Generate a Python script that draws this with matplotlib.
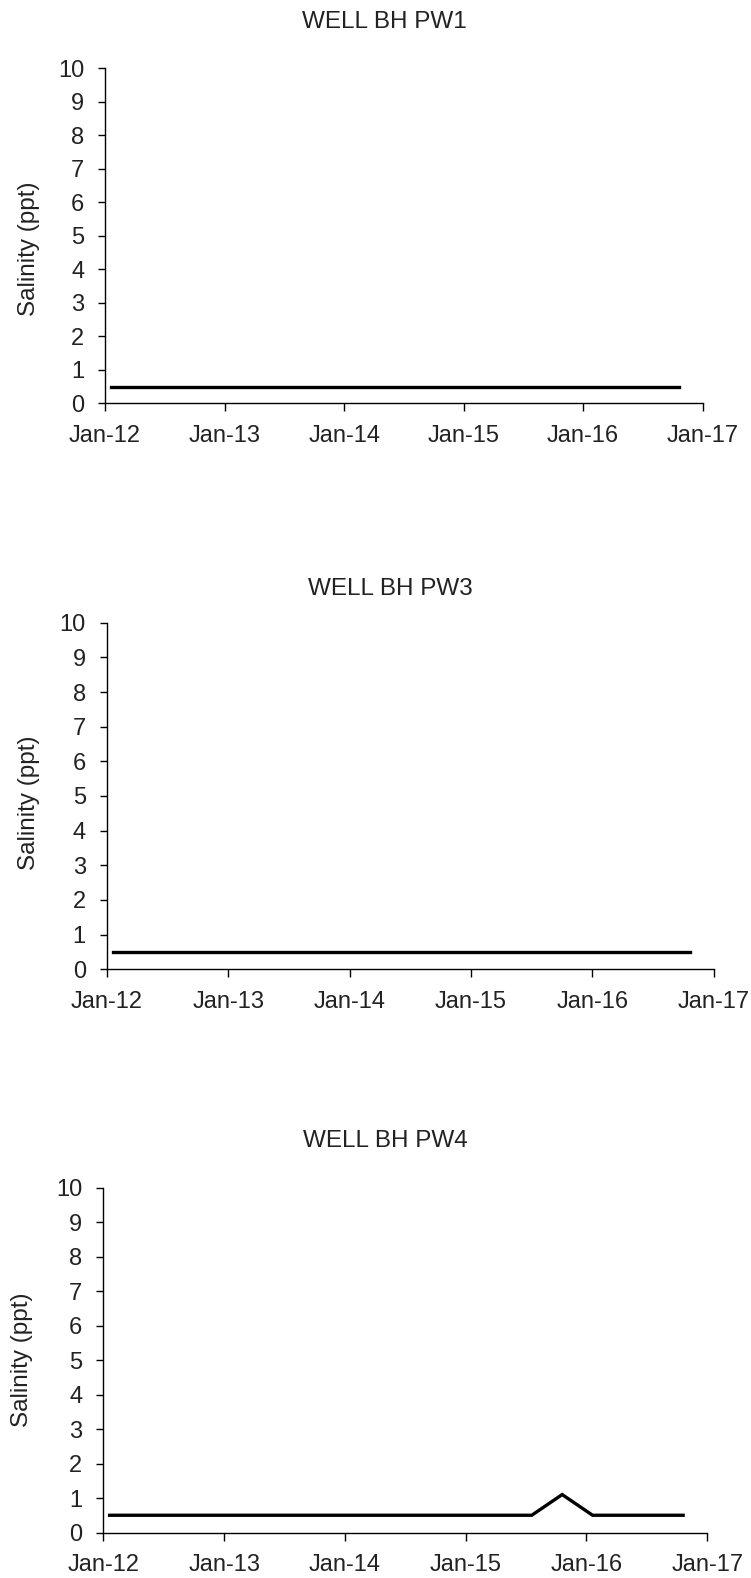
import matplotlib
matplotlib.use("Agg")
import matplotlib.pyplot as plt
import matplotlib.dates as mdates
import pandas as pd

plt.rcParams['font.family'] = ['Liberation Sans', 'DejaVu Sans']

# ---- data ----
titles = ["WELL BH PW1", "WELL BH PW3", "WELL BH PW4"]
dates = pd.to_datetime([
    "2012-01-20", "2012-04-20", "2012-07-20", "2012-10-20",
    "2013-01-20", "2013-04-20", "2013-07-20", "2013-10-20",
    "2014-01-20", "2014-04-20", "2014-07-20", "2014-10-20",
    "2015-01-20", "2015-04-20", "2015-07-20", "2015-10-20",
    "2016-01-20", "2016-04-20", "2016-07-20", "2016-10-20",
])
pw1 = [0.5, 0.5, 0.5, 0.5, 0.5, 0.5, 0.5, 0.5, 0.5, 0.5,
       0.5, 0.5, 0.5, 0.5, 0.5, 0.5, 0.5, 0.5, 0.5, 0.5]
pw3 = [0.5, 0.5, 0.5, 0.5, 0.5, 0.5, 0.5, 0.5, 0.5, 0.5,
       0.5, 0.5, 0.5, 0.5, 0.5, 0.5, 0.5, 0.5, 0.5, 0.5]
pw4 = [0.5, 0.5, 0.5, 0.5, 0.5, 0.5, 0.5, 0.5, 0.5, 0.5,
       0.5, 0.5, 0.5, 0.5, 0.5, 1.1, 0.5, 0.5, 0.5, 0.5]
series = [pw1, pw3, pw4]
yticks = list(range(0, 11))
xtick_dates = pd.to_datetime(["2012-01-01", "2013-01-01", "2014-01-01",
                              "2015-01-01", "2016-01-01", "2017-01-01"])
ylabel = "Salinity (ppt)"

# ---- layout (pixels) ----
W, H = 751, 1578
boxes = [  # left, right, top, bottom
    (105.0, 702.7, 68.3, 403.3),
    (106.7, 714.0, 622.7, 969.3),
    (103.3, 707.3, 1187.7, 1532.5),
]
title_pads = [29, 20, 29]
ylab_x = [-0.109, -0.110, -0.116]
ylab_y = [0.46, 0.48, 0.50]

txt = '#222222'
fig = plt.figure(figsize=(W / 100, H / 100), dpi=100)
for i, (l, r, t, b) in enumerate(boxes):
    ax = fig.add_axes([l / W, 1 - b / H, (r - l) / W, (b - t) / H])
    ax.plot(dates, series[i], color='black', lw=2.4, solid_joinstyle='miter')
    ax.set_xlim(xtick_dates[0], xtick_dates[-1])
    ax.set_ylim(0, 10)
    ax.set_yticks(yticks)
    ax.set_xticks(xtick_dates)
    ax.xaxis.set_major_formatter(mdates.DateFormatter('%b-%y'))
    for s in ['top', 'right']:
        ax.spines[s].set_visible(False)
    for s in ['left', 'bottom']:
        ax.spines[s].set_linewidth(1.0)
        ax.spines[s].set_color('black')
    ax.tick_params(axis='y', direction='out', length=5, width=1.0,
                   pad=10, labelsize=17, labelcolor=txt)
    ax.tick_params(axis='x', direction='out', length=5.5, width=1.0,
                   pad=10, labelsize=17, labelcolor=txt)
    ax.set_ylabel(ylabel, fontsize=17.5, color=txt)
    ax.yaxis.set_label_coords(ylab_x[i], ylab_y[i])
    ax.set_title(titles[i], fontsize=17.5, color=txt, x=0.467,
                 pad=title_pads[i])

fig.savefig("out.png", dpi=100)
